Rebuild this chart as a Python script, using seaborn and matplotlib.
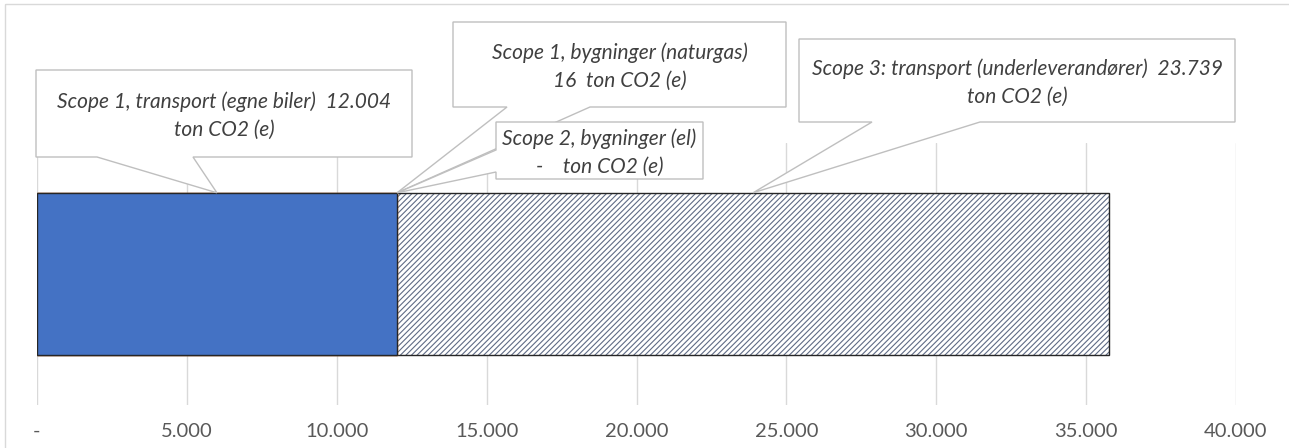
import numpy as np
import matplotlib
matplotlib.use("Agg")
import matplotlib.pyplot as plt
import matplotlib.transforms as mtransforms
from matplotlib.patches import Polygon, Rectangle
from matplotlib.ticker import FuncFormatter
import seaborn as sns

W, H = 1289, 448

# data
category = ["CO2"]
sources = ["Scope 1, transport (egne biler)",
           "Scope 1, bygninger (naturgas)",
           "Scope 2, bygninger (el)",
           "Scope 3: transport (underleverandører)"]
tons = np.array([12004, 16, 0, 23739])
x_ticks = [0, 5000, 10000, 15000, 20000, 25000, 30000, 35000, 40000]


def fmt(v, pos=None):
    """Danish thousands separator, zero shown as a dash like Excel"""
    if v == 0:
        return "-"
    return f"{v:,.0f}".replace(",", ".")


sns.set_theme(style="white")
plt.rcParams["font.family"] = ["Lato", "DejaVu Sans"]
plt.rcParams["hatch.linewidth"] = 0.8

fig = plt.figure(figsize=(W / 100, H / 100), dpi=100)
ax = fig.add_axes([37 / W, 1 - 405 / H, (1236 - 37) / W, (405 - 143) / H])

ends = np.cumsum(tons)
starts = ends - tons
mids = starts + tons / 2

# stacked bar drawn as overlapping cumulative bars, widest first
sns.barplot(x=[ends[3]], y=category, orient="h", width=0.62, color="white",
            saturation=1, edgecolor="#5f6b85", linewidth=0, hatch="//////", ax=ax)
sns.barplot(x=[ends[3]], y=category, orient="h", width=0.62, color="#262626",
            fill=False, linewidth=1, ax=ax)
sns.barplot(x=[ends[2]], y=category, orient="h", width=0.62, color="#A5A5A5",
            saturation=1, linewidth=0, ax=ax)
sns.barplot(x=[ends[1]], y=category, orient="h", width=0.62, color="#ED7D31",
            saturation=1, edgecolor="#ED7D31", linewidth=1, ax=ax)
sns.barplot(x=[ends[0]], y=category, orient="h", width=0.62, color="#4472C4",
            saturation=1, edgecolor="#262626", linewidth=1, ax=ax)

ax.set_xlim(0, 40000)
ax.set_ylim(0.5, -0.5)
ax.set_xticks(x_ticks)
ax.xaxis.set_major_formatter(FuncFormatter(fmt))
ax.set_yticks([])
ax.set_xlabel("")
ax.set_ylabel("")
ax.set_axisbelow(True)
ax.grid(axis="x", color="#d9d9d9", linewidth=1)
ax.grid(axis="y", visible=False)
for s in ax.spines.values():
    s.set_visible(False)
ax.tick_params(axis="x", length=0, pad=13, labelsize=14.5, labelcolor="#595959")

# pixel coordinates, origin top left
px = mtransforms.Affine2D().scale(1 / W, -1 / H).translate(0, 1) + fig.transFigure

fig.add_artist(Rectangle((5, 4), W, H, transform=px, fill=False,
                         edgecolor="#d9d9d9", linewidth=1))

# callouts: box (x0, y0, x1, y1), wedge base, side, line break style
callouts = [
    dict(box=(36, 70, 412, 157), base=(97, 193), side="bottom", split="after"),
    dict(box=(453, 22, 786, 107), base=(507, 590), side="bottom", split="before"),
    dict(box=(496, 122, 703, 179), base=(150, 172), side="left", split="before"),
    dict(box=(799, 39, 1235, 122), base=(872, 980), side="bottom", split="after"),
]

bar_top = -0.31
for i, c in enumerate(callouts):
    dx, dy = ax.transData.transform((mids[i], bar_top))
    tip = (dx, H - dy)
    x0, y0, x1, y1 = c["box"]
    b0, b1 = c["base"]
    if c["side"] == "bottom":
        pts = [(x0, y0), (x1, y0), (x1, y1), (b1, y1), tip, (b0, y1), (x0, y1)]
    else:
        pts = [(x0, y0), (x1, y0), (x1, y1), (x0, y1), (x0, b1), tip, (x0, b0)]
    fig.add_artist(Polygon(pts, closed=True, transform=px, facecolor="white",
                           edgecolor="#bfbfbf", linewidth=1, zorder=5 + i))
    if c["split"] == "after":
        label = f"{sources[i]}  {fmt(tons[i])}\nton CO2 (e)"
    else:
        gap = "  " if tons[i] else "    "
        label = f"{sources[i]}\n{fmt(tons[i])}{gap}ton CO2 (e)"
    fig.text((x0 + x1) / 2, (y0 + y1) / 2 + 2, label, transform=px,
             ha="center", va="center", fontsize=15, style="italic",
             color="#404040", linespacing=1.45, zorder=5 + i)

fig.savefig("out.png", dpi=100)
